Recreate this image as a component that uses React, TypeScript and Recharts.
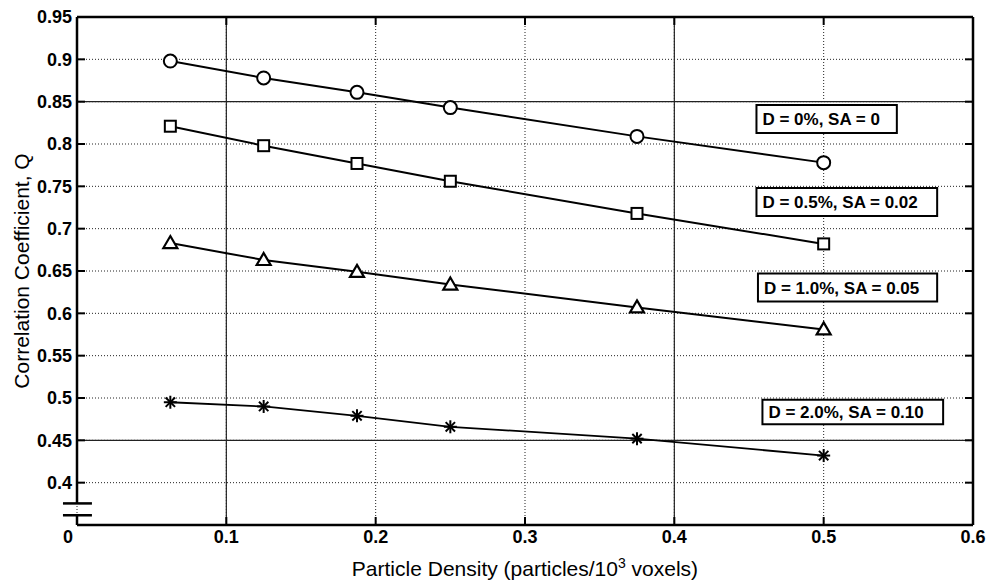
import React from 'react';
import { LineChart, Line, XAxis, YAxis, CartesianGrid, ReferenceLine, ReferenceArea } from 'recharts';

// particle density (particles / 10^3 voxels)
const density = [0.0625, 0.125, 0.1875, 0.25, 0.375, 0.5];

// correlation coefficient Q for each distortion case
const qD0 = [0.898, 0.878, 0.861, 0.843, 0.809, 0.778];
const qD05 = [0.821, 0.798, 0.777, 0.756, 0.718, 0.682];
const qD10 = [0.683, 0.663, 0.649, 0.634, 0.607, 0.581];
const qD20 = [0.495, 0.49, 0.479, 0.466, 0.452, 0.432];

const seriesLabels = ['D = 0%, SA = 0', 'D = 0.5%, SA = 0.02', 'D = 1.0%, SA = 0.05', 'D = 2.0%, SA = 0.10'];

const xTicks = [0, 0.1, 0.2, 0.3, 0.4, 0.5, 0.6];
const yTicks = [0.4, 0.45, 0.5, 0.55, 0.6, 0.65, 0.7, 0.75, 0.8, 0.85, 0.9, 0.95];

const rows = density.map((x, i) => ({ x, d0: qD0[i], d05: qD05[i], d10: qD10[i], d20: qD20[i] }));

// where the text boxes sit, in data units
const boxes = [
  { x1: 0.455, x2: 0.549, y1: 0.813, y2: 0.846 },
  { x1: 0.455, x2: 0.576, y1: 0.715, y2: 0.748 },
  { x1: 0.456, x2: 0.576, y1: 0.614, y2: 0.647 },
  { x1: 0.459, x2: 0.58, y1: 0.469, y2: 0.498 },
];

const FONT = '"Liberation Sans", Arial, sans-serif';
const INK = '#000';

const CircleDot = (p: any) => (
  <circle key={p.key} cx={p.cx} cy={p.cy} r={6.5} fill="#fff" stroke={INK} strokeWidth={2} />
);
const SquareDot = (p: any) => (
  <rect key={p.key} x={p.cx - 5.5} y={p.cy - 5.5} width={11} height={11} fill="#fff" stroke={INK} strokeWidth={2} />
);
const TriangleDot = (p: any) => (
  <path
    key={p.key}
    d={`M${p.cx},${p.cy - 7} L${p.cx + 7},${p.cy + 5} L${p.cx - 7},${p.cy + 5} Z`}
    fill="#fff"
    stroke={INK}
    strokeWidth={2.2}
  />
);
const StarDot = (p: any) => {
  const r = 6.5;
  const d = r * 0.72;
  return (
    <g key={p.key} stroke={INK} strokeWidth={2}>
      <line x1={p.cx - r} y1={p.cy} x2={p.cx + r} y2={p.cy} />
      <line x1={p.cx} y1={p.cy - r} x2={p.cx} y2={p.cy + r} />
      <line x1={p.cx - d} y1={p.cy - d} x2={p.cx + d} y2={p.cy + d} />
      <line x1={p.cx - d} y1={p.cy + d} x2={p.cx + d} y2={p.cy - d} />
    </g>
  );
};

const XTick = ({ x, y, payload }: any) => (
  <text
    x={payload.value === 0 ? x - 9 : x}
    y={y}
    dy={13}
    textAnchor="middle"
    fontSize={18}
    fontWeight="bold"
    fontFamily={FONT}
    fill={INK}
  >
    {String(payload.value)}
  </text>
);

const XTitle = ({ viewBox }: any) => (
  <text x={viewBox.x + viewBox.width / 2} y={576} textAnchor="middle" fontSize={21} fontFamily={FONT} fill={INK}>
    Particle Density (particles/10<tspan dy={-8} fontSize={14}>3</tspan>
    <tspan dy={8}> voxels)</tspan>
  </text>
);

const YTitle = ({ viewBox }: any) => {
  const cx = 21;
  const cy = viewBox.y + viewBox.height / 2;
  return (
    <text
      x={cx}
      y={cy}
      transform={`rotate(-90 ${cx} ${cy})`}
      textAnchor="middle"
      dominantBaseline="central"
      fontSize={21}
      fontFamily={FONT}
      fill={INK}
    >
      Correlation Coefficient, Q
    </text>
  );
};

const frame = { stroke: INK, strokeWidth: 2.5 };
const tickStroke = { stroke: INK, strokeWidth: 2 };

export default function App() {
  return (
    <div style={{ position: 'absolute', left: 0, top: 0, width: 990, height: 580, background: '#fff' }}>
      <LineChart width={990} height={580} data={rows} margin={{ top: 0, right: 0, bottom: 0, left: 0 }}>
        <CartesianGrid stroke="#222" strokeDasharray="1 2" strokeWidth={1} />
        <ReferenceLine x={0.1} stroke="#222" strokeWidth={1.2} />
        <ReferenceLine x={0.4} stroke="#222" strokeWidth={1.2} />
        <ReferenceLine y={0.85} stroke="#222" strokeWidth={1.2} />
        <ReferenceLine y={0.45} stroke="#222" strokeWidth={1.2} />

        <XAxis
          dataKey="x"
          type="number"
          domain={[0, 0.6]}
          allowDataOverflow
          ticks={xTicks}
          height={55}
          axisLine={frame}
          tickLine={tickStroke}
          tickSize={-8}
          tickMargin={13}
          tick={<XTick />}
          label={<XTitle />}
        />
        <XAxis
          xAxisId="top"
          dataKey="x"
          orientation="top"
          type="number"
          domain={[0, 0.6]}
          allowDataOverflow
          ticks={xTicks}
          height={17}
          axisLine={frame}
          tickLine={tickStroke}
          tickSize={-8}
          tickFormatter={() => ''}
        />
        <YAxis
          type="number"
          domain={[0.35, 0.95]}
          allowDataOverflow
          ticks={yTicks}
          width={77}
          axisLine={false}
          tickLine={tickStroke}
          tickSize={-8}
          tickMargin={13}
          tick={{ fontSize: 18, fontWeight: 'bold', fontFamily: FONT, fill: INK }}
          label={<YTitle />}
        />
        <YAxis
          yAxisId="right"
          orientation="right"
          type="number"
          domain={[0.35, 0.95]}
          allowDataOverflow
          ticks={yTicks}
          width={17}
          axisLine={frame}
          tickLine={tickStroke}
          tickSize={-8}
          tickFormatter={() => ''}
        />

        {/* left frame with the axis break */}
        <ReferenceLine segment={[{ x: 0, y: 0.3755 }, { x: 0, y: 0.95 }]} stroke={INK} strokeWidth={2.5} ifOverflow="visible" />
        <ReferenceLine segment={[{ x: 0, y: 0.35 }, { x: 0, y: 0.3615 }]} stroke={INK} strokeWidth={2.5} ifOverflow="visible" />
        <ReferenceLine segment={[{ x: -0.0094, y: 0.3755 }, { x: 0.01, y: 0.3755 }]} stroke={INK} strokeWidth={2.5} ifOverflow="visible" />
        <ReferenceLine segment={[{ x: -0.0094, y: 0.3615 }, { x: 0.01, y: 0.3615 }]} stroke={INK} strokeWidth={2.5} ifOverflow="visible" />

        {boxes.map((b, i) => (
          <ReferenceArea
            key={seriesLabels[i]}
            x1={b.x1}
            x2={b.x2}
            y1={b.y1}
            y2={b.y2}
            fill="#fff"
            fillOpacity={1}
            stroke={INK}
            strokeWidth={2}
            ifOverflow="visible"
            label={{
              value: seriesLabels[i],
              position: 'insideLeft',
              offset: 6,
              fontSize: 17,
              fontWeight: 'bold',
              fontFamily: FONT,
              fill: INK,
            }}
          />
        ))}

        <Line dataKey="d0" stroke={INK} strokeWidth={2} dot={CircleDot} activeDot={false} isAnimationActive={false} />
        <Line dataKey="d05" stroke={INK} strokeWidth={2} dot={SquareDot} activeDot={false} isAnimationActive={false} />
        <Line dataKey="d10" stroke={INK} strokeWidth={2} dot={TriangleDot} activeDot={false} isAnimationActive={false} />
        <Line dataKey="d20" stroke={INK} strokeWidth={1.8} dot={StarDot} activeDot={false} isAnimationActive={false} />
      </LineChart>
    </div>
  );
}
